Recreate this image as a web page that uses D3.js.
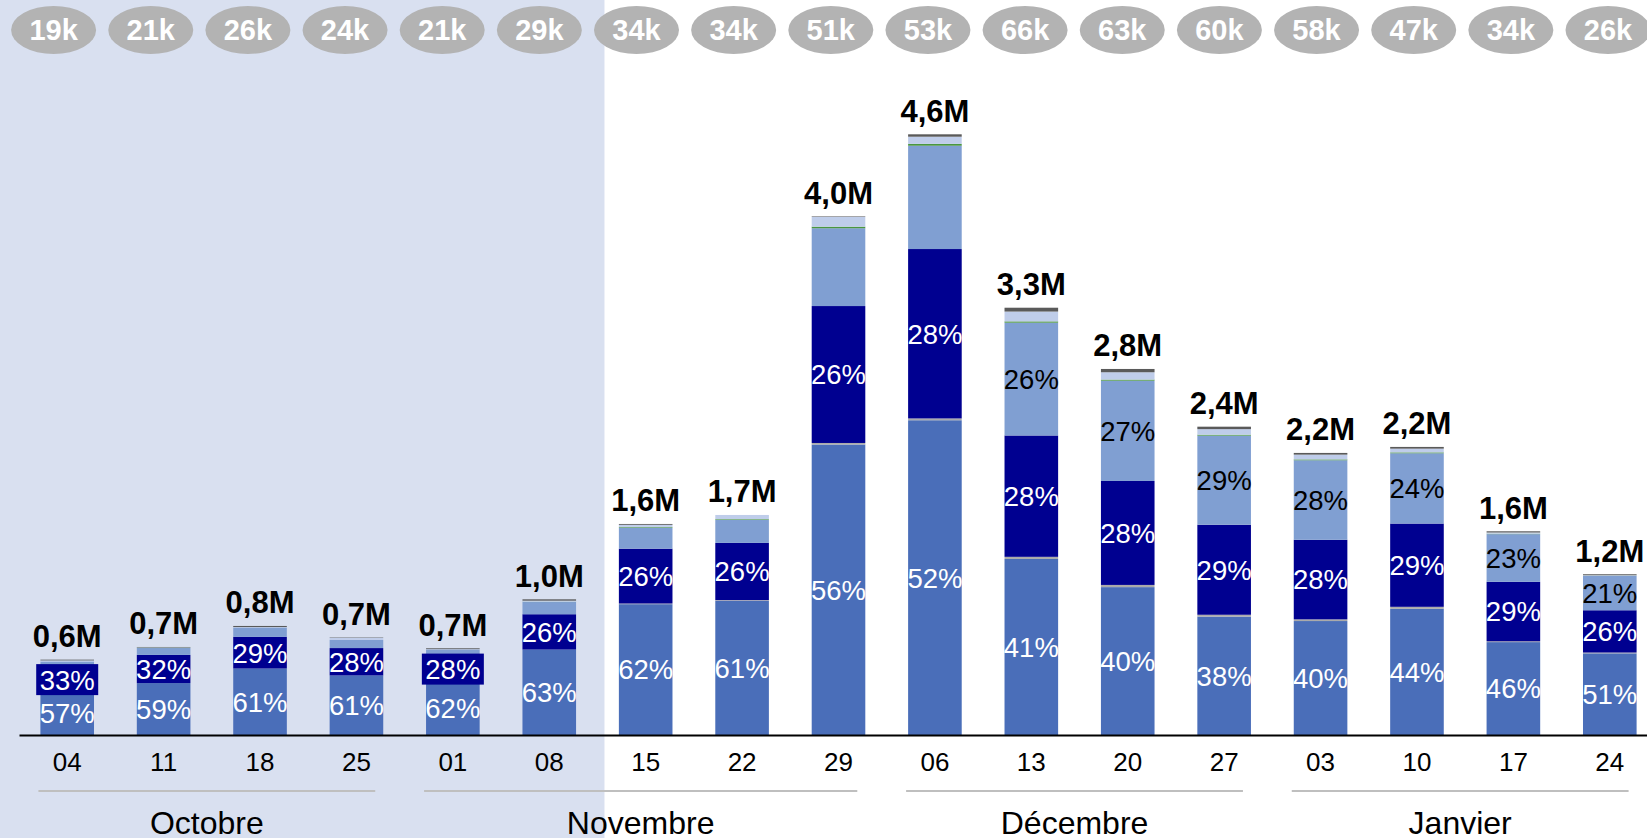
<!DOCTYPE html>
<html><head><meta charset="utf-8">
<script src="https://cdn.jsdelivr.net/npm/d3@7"></script>
<style>html,body{margin:0;padding:0;background:#fff;overflow:hidden}svg{display:block}</style>
</head><body>
<svg id="chart" width="1647" height="838"></svg>
<script>
// ---------- DATA ----------
const weeks = ["04","11","18","25","01","08","15","22","29","06","13","20","27","03","10","17","24"];
const months = ["Octobre","Novembre","Décembre","Janvier"];
const weekMonth = [0,0,0,0,1,1,1,1,1,2,2,2,2,3,3,3,3];
const shadedLastWeek = 5; // index of last week in the shaded period
// total per week, millions
const totalsM = [0.577,0.674,0.835,0.748,0.664,1.039,1.616,1.685,3.972,4.6,3.272,2.803,2.361,2.16,2.206,1.56,1.231];
// bubble values (thousands)
const bubbleK = [19,21,26,24,21,29,34,34,51,53,66,63,60,58,47,34,26];
// shares (% of total) per series, bottom to top
const shareMain  = [57.0,59.0,61.0,61.0,62.0,63.0,62.0,61.0,56.0,52.4,41.2,40.4,38.4,40.4,43.8,45.6,50.8];
const shareSep   = [0,0,0,0,0,0,0.3,0.3,0.3,0.3,0.5,0.6,0.6,0.6,0.7,0.4,0.5];
const shareNavy  = [33.0,32.0,29.0,28.0,28.0,26.0,26.0,26.0,26.4,28.2,28.4,28.4,29.2,28.2,28.9,29.2,26.3];
const shareLight = [7.5,7.8,8.5,8.3,8.5,9.0,10.0,10.5,15.0,17.2,26.4,27.4,28.9,28.2,24.4,23.4,21.4];
const shareGreen = [0,0.3,0,0,0,0.2,0.3,0.3,0.3,0.3,0.3,0.3,0.3,0.3,0.3,0.2,0.1];
const sharePale  = [1.5,0.4,0.5,2.3,0.5,0.8,1.0,1.9,1.9,1.2,2.3,2.0,1.8,1.7,1.3,0.6,0.3];
const shareTop   = [1.0,0.5,1.0,0.4,1.0,1.0,0.4,0,0.1,0.4,0.9,0.9,0.8,0.6,0.6,0.6,0.6];

const seriesKeys = ["main","sep","navy","light","green","pale","top"];
const seriesShares = [shareMain,shareSep,shareNavy,shareLight,shareGreen,sharePale,shareTop];
const seriesColors = ["#4A6EB9","#AAAAAA","#000090","#809FD2","#4A9640","#BFCDEA","#5A5A5A"];
const labelledSeries = {main:"#FFFFFF", navy:"#FFFFFF", light:"#000000"};

// ---------- LAYOUT ----------
const W = 1647, H = 838;
const baseY = 735;
const font = "'Liberation Sans', Arial, sans-serif";
const svg = d3.select("#chart").attr("font-family", font);

const x = d3.scaleBand().domain(weeks.map((w,i)=>i)).range([19, 1658]).paddingInner(0.444).paddingOuter(0.222);
const bw = x.bandwidth();
const y = d3.scaleLinear().domain([0, 4.6]).range([baseY, 134.3]);
const xb = d3.scalePoint().domain(weeks.map((w,i)=>i)).range([53.6, 1608]);

// shaded period background
const shadeEnd = (x(shadedLastWeek) + bw + x(shadedLastWeek+1)) / 2 + 7;
svg.append("rect").attr("x",0).attr("y",0).attr("width",shadeEnd).attr("height",H).attr("fill","#D9E0F0");

// stacked data
const rows = weeks.map((w,i)=>{
  const r = {i};
  seriesKeys.forEach((k,j)=>{ r[k] = totalsM[i]*seriesShares[j][i]/100; });
  return r;
});
const stacked = d3.stack().keys(seriesKeys)(rows);

const gBars = svg.append("g");
stacked.forEach((s,j)=>{
  gBars.selectAll(null).data(s).join("rect")
    .attr("x", d=>x(d.data.i)).attr("width", bw)
    .attr("y", d=>y(d[1])).attr("height", d=>Math.max(0, y(d[0])-y(d[1])))
    .attr("fill", seriesColors[j]);
});

// percent labels
const gLab = svg.append("g").attr("font-size", 27.5).attr("text-anchor","middle");
stacked.forEach((s,j)=>{
  const key = seriesKeys[j];
  if (!(key in labelledSeries)) return;
  s.forEach(d=>{
    const share = seriesShares[j][d.data.i];
    if (key === "light" && share < 20) return;
    const y0 = y(d[0]), y1 = y(d[1]);
    const cy = (y0+y1)/2, cx = x(d.data.i) + bw/2;
    if (key === "navy" && (y0-y1) < 26) {
      gLab.append("rect").attr("x", cx-31).attr("y", cy-15.5).attr("width",62).attr("height",31).attr("fill", seriesColors[j]);
    }
    gLab.append("text").attr("x", cx).attr("y", cy).attr("dy","0.36em")
      .attr("fill", labelledSeries[key]).text(Math.round(share)+"%");
  });
});

// total labels
const fmt = d3.format(".1f");
svg.append("g").selectAll("text").data(totalsM).join("text")
  .attr("x",(d,i)=>x(i)+bw/2).attr("y", d=>y(d)-12.5)
  .attr("text-anchor","middle").attr("font-size",31).attr("font-weight","bold").attr("fill","#000")
  .text(d=>fmt(d).replace(".",",")+"M");

// bubbles
const gB = svg.append("g");
gB.selectAll("ellipse").data(bubbleK).join("ellipse")
  .attr("cx",(d,i)=>xb(i)).attr("cy",30).attr("rx",42.5).attr("ry",24).attr("fill","#B3B3B3");
gB.selectAll("text").data(bubbleK).join("text")
  .attr("x",(d,i)=>xb(i)).attr("y",30).attr("dy","0.36em").attr("text-anchor","middle")
  .attr("font-size",29).attr("font-weight","bold").attr("fill","#fff").text(d=>d+"k");

// x axis
const ax = svg.append("g").attr("transform",`translate(0,${baseY})`)
  .call(d3.axisBottom(x).tickSize(0).tickPadding(18).tickFormat(i=>weeks[i]));
ax.select(".domain").attr("stroke","#000").attr("stroke-width",2);
ax.selectAll("text").attr("font-size",26).attr("font-family",font).attr("fill","#000");

// month groups
months.forEach((m,k)=>{
  const idx = weekMonth.map((v,i)=>v===k?i:-1).filter(i=>i>=0);
  const x0 = x(idx[0]) - 2, x1 = x(idx[idx.length-1]) + bw - 8;
  svg.append("line").attr("x1",x0).attr("x2",x1).attr("y1",791).attr("y2",791)
    .attr("stroke","#BFBFBF").attr("stroke-width",2);
  svg.append("text").attr("x",(x0+x1)/2).attr("y",834).attr("text-anchor","middle")
    .attr("font-size",32).attr("fill","#000").text(m);
});
</script>
</body></html>
